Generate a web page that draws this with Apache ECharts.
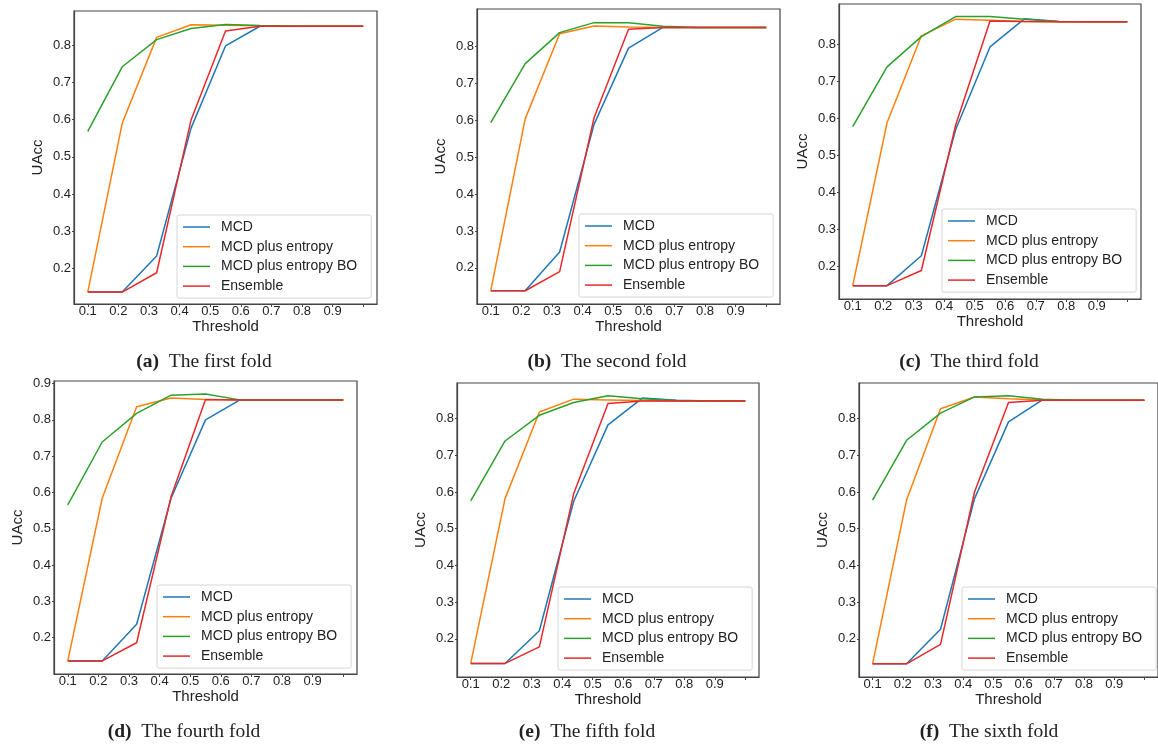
<!DOCTYPE html>
<html>
<head>
<meta charset="utf-8">
<script src="https://cdn.jsdelivr.net/npm/echarts@6/dist/echarts.min.js"></script>
<style>
  html, body { margin: 0; padding: 0; background: #fff; }
  #chart { width: 1158px; height: 747px; }
</style>
</head>
<body>
<div id="chart"></div>
<script>
// x positions of the 9 points (the last one sits on the unlabelled tick)
const thresholds = [0.1, 0.2125, 0.325, 0.4375, 0.55, 0.6625, 0.775, 0.8875, 1.0]
const xTickValues = [0.1, 0.2, 0.3, 0.4, 0.5, 0.6, 0.7, 0.8, 0.9, 1.0]
const xLabelValues = [0.1, 0.2, 0.3, 0.4, 0.5, 0.6, 0.7, 0.8, 0.9]
const seriesNames = ['MCD', 'MCD plus entropy', 'MCD plus entropy BO', 'Ensemble']
const captionTags = ['(a)', '(b)', '(c)', '(d)', '(e)', '(f)']
const captionTexts = ['The first fold', 'The second fold', 'The third fold', 'The fourth fold', 'The fifth fold', 'The sixth fold']

// UAcc per fold, one row per fold
const mcd = [
  [0.136, 0.136, 0.233, 0.577, 0.798, 0.851, 0.851, 0.851, 0.851],
  [0.138, 0.138, 0.243, 0.589, 0.796, 0.852, 0.852, 0.852, 0.852],
  [0.148, 0.148, 0.229, 0.570, 0.793, 0.869, 0.862, 0.861, 0.861],
  [0.136, 0.136, 0.237, 0.584, 0.800, 0.855, 0.855, 0.855, 0.855],
  [0.133, 0.133, 0.222, 0.575, 0.783, 0.856, 0.850, 0.848, 0.848],
  [0.132, 0.132, 0.226, 0.582, 0.791, 0.851, 0.850, 0.850, 0.850]
]
const mcdEntropy = [
  [0.136, 0.590, 0.821, 0.855, 0.854, 0.852, 0.851, 0.851, 0.851],
  [0.138, 0.604, 0.835, 0.856, 0.853, 0.852, 0.852, 0.852, 0.852],
  [0.148, 0.588, 0.823, 0.868, 0.865, 0.862, 0.861, 0.861, 0.861],
  [0.136, 0.584, 0.836, 0.860, 0.856, 0.855, 0.855, 0.855, 0.855],
  [0.133, 0.582, 0.818, 0.853, 0.851, 0.849, 0.848, 0.848, 0.848],
  [0.132, 0.578, 0.827, 0.859, 0.854, 0.851, 0.850, 0.850, 0.850]
]
const mcdEntropyBO = [
  [0.568, 0.742, 0.815, 0.845, 0.856, 0.853, 0.851, 0.851, 0.851],
  [0.594, 0.754, 0.838, 0.865, 0.865, 0.855, 0.852, 0.852, 0.852],
  [0.578, 0.739, 0.821, 0.875, 0.875, 0.868, 0.862, 0.861, 0.861],
  [0.566, 0.739, 0.818, 0.868, 0.871, 0.855, 0.855, 0.855, 0.855],
  [0.576, 0.739, 0.809, 0.844, 0.862, 0.854, 0.849, 0.848, 0.848],
  [0.578, 0.741, 0.815, 0.859, 0.862, 0.853, 0.850, 0.850, 0.850]
]
const ensemble = [
  [0.136, 0.136, 0.188, 0.599, 0.838, 0.851, 0.851, 0.851, 0.851],
  [0.138, 0.138, 0.190, 0.607, 0.847, 0.852, 0.852, 0.852, 0.852],
  [0.148, 0.148, 0.189, 0.582, 0.863, 0.862, 0.861, 0.861, 0.861],
  [0.136, 0.136, 0.186, 0.588, 0.856, 0.855, 0.855, 0.855, 0.855],
  [0.133, 0.133, 0.178, 0.595, 0.841, 0.848, 0.848, 0.848, 0.848],
  [0.132, 0.132, 0.185, 0.600, 0.844, 0.850, 0.850, 0.850, 0.850]
]
const yLow = [0.104, 0.102, 0.112, 0.100, 0.096, 0.096]
const yHigh = [0.892, 0.902, 0.909, 0.907, 0.897, 0.897]
const yTicksLow = [0.2, 0.3, 0.4, 0.5, 0.6, 0.7, 0.8]
const yTicksHigh = [0.2, 0.3, 0.4, 0.5, 0.6, 0.7, 0.8, 0.9]
const yTickSets = [yTicksLow, yTicksLow, yTicksLow, yTicksHigh, yTicksLow, yTicksLow]

// layout of the six panels: [left, top, width, height]
const gridBoxes = [
  [74, 11, 303, 293], [477, 9, 303, 295], [839, 4, 302, 295],
  [54, 381, 303, 293], [457, 383, 302, 294], [859, 383, 302, 294]
]
const legendPos = [[177, 215], [579, 214], [942, 209], [157, 585], [558, 587], [962, 587]]
const captionPos = [[204, 362], [607, 362], [969, 362], [184, 732], [587, 732], [989, 732]]

const colors = ['#1f77b4', '#ff7f0e', '#2ca02c', '#e8282b']
const sans = 'Liberation Sans, Arial, sans-serif'
const serif = 'Liberation Serif, Times New Roman, serif'
const ink = '#222'
const frame = '#444'

const allData = [mcd, mcdEntropy, mcdEntropyBO, ensemble]

const grid = [], xAxis = [], yAxis = [], series = [], legend = [], graphic = []

gridBoxes.forEach((b, i) => {
  grid.push({
    left: b[0], top: b[1], width: b[2], height: b[3],
    show: true, borderColor: frame, borderWidth: 1.2, backgroundColor: '#fff'
  })

  xAxis.push({
    type: 'value', gridIndex: i, min: 0.055, max: 1.045,
    name: 'Threshold', nameLocation: 'middle', nameGap: 13,
    nameTextStyle: { fontFamily: sans, fontSize: 15, color: ink },
    axisLine: { show: true, onZero: false, lineStyle: { color: frame, width: 1.2 } },
    axisTick: { show: true, length: 3, customValues: xTickValues, lineStyle: { color: frame } },
    axisLabel: {
      customValues: xLabelValues, margin: 1, fontFamily: sans, fontSize: 13, color: ink,
      formatter: v => v.toFixed(1)
    },
    splitLine: { show: false }
  })

  yAxis.push({
    type: 'value', gridIndex: i, min: yLow[i], max: yHigh[i],
    name: 'UAcc', nameLocation: 'middle', nameGap: 29,
    nameTextStyle: { fontFamily: sans, fontSize: 15, color: ink },
    axisLine: { show: true, lineStyle: { color: frame, width: 1.2 } },
    axisTick: { show: true, length: 2, customValues: yTickSets[i], lineStyle: { color: frame } },
    axisLabel: {
      customValues: yTickSets[i], margin: 3, fontFamily: sans, fontSize: 13, color: ink,
      formatter: v => v.toFixed(1)
    },
    splitLine: { show: false }
  })

  seriesNames.forEach((name, s) => {
    series.push({
      name: name, type: 'line', xAxisIndex: i, yAxisIndex: i,
      data: thresholds.map((x, k) => [x, allData[s][i][k]]),
      symbol: 'none', showSymbol: false, color: colors[s],
      lineStyle: { width: 1.5, color: colors[s] },
      z: 2 + s
    })
  })

  legend.push({
    data: seriesNames, orient: 'vertical',
    left: legendPos[i][0], top: legendPos[i][1],
    icon: 'path://M0,0H27V1.5H0Z',
    itemWidth: 27, itemHeight: 14, itemGap: 5.7,
    padding: [5, 14, 5, 6],
    borderColor: '#d6d6d6', borderWidth: 1, borderRadius: 2,
    backgroundColor: 'rgba(255,255,255,0.85)',
    selectedMode: false,
    textStyle: { fontFamily: sans, fontSize: 14, color: ink, padding: [0, 0, 0, 6] }
  })

  graphic.push({
    type: 'text', x: captionPos[i][0], y: captionPos[i][1],
    style: {
      text: '{b|' + captionTags[i] + '}  ' + captionTexts[i],
      align: 'center', verticalAlign: 'middle',
      fontFamily: serif, fontSize: 19.5, fill: ink,
      rich: { b: { fontWeight: 'bold', fontFamily: serif, fontSize: 19.5, fill: ink } }
    }
  })
})

const chart = echarts.init(document.getElementById('chart'))
chart.setOption({
  animation: false,
  backgroundColor: '#fff',
  grid, xAxis, yAxis, series, legend, graphic
})
</script>
</body>
</html>
